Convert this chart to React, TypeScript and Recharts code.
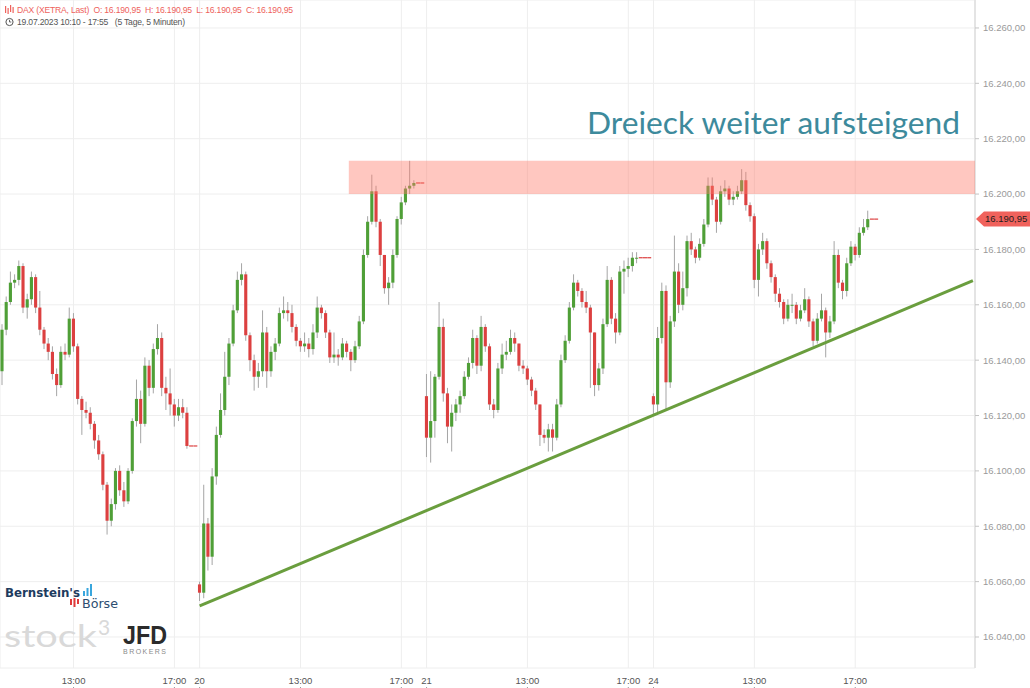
import { ComposedChart, Bar, XAxis, YAxis, CartesianGrid, ReferenceLine, ReferenceArea } from 'recharts'

// DAX (XETRA) 19.07. - 24.07.2023, read off the chart as 10-minute candles
// open of a candle = close of the one before, first open of each session below
const TOTAL_SLOTS = 232
const GREEN = '#4f9f37'
const RED = '#dc4040'

const dayOpens = [16136, 16059, 16127, 16127]

const close19 = [16151, 16161, 16168, 16169, 16174, 16159, 16162, 16170, 16159, 16151, 16146, 16143, 16135, 16131, 16143, 16142, 16155, 16145, 16126, 16122, 16121, 16117, 16111, 16106, 16095, 16082, 16088, 16100, 16093, 16089, 16100, 16118, 16126, 16117, 16138, 16130, 16144, 16148, 16130, 16128, 16124, 16120, 16123, 16121, 16109, 16109, 16109]
const high19 = [16153, 16163, 16172, 16171, 16176, 16175, 16164, 16172, 16171, 16165, 16152, 16148, 16145, 16137, 16145, 16146, 16159, 16157, 16146, 16127, 16125, 16123, 16118, 16113, 16107, 16096, 16090, 16101, 16102, 16096, 16101, 16119, 16133, 16129, 16141, 16140, 16146, 16153, 16150, 16134, 16137, 16126, 16126, 16126, 16123, 16109, 16109]
const low19 = [16131, 16149, 16160, 16166, 16167, 16157, 16155, 16160, 16157, 16149, 16144, 16140, 16133, 16127, 16130, 16140, 16141, 16143, 16124, 16113, 16119, 16115, 16108, 16104, 16093, 16077, 16080, 16086, 16091, 16087, 16088, 16099, 16116, 16110, 16116, 16127, 16128, 16142, 16127, 16122, 16120, 16116, 16118, 16119, 16108, 16109, 16109]

const close20 = [16056, 16081, 16069, 16098, 16113, 16122, 16134, 16146, 16158, 16169, 16171, 16149, 16140, 16134, 16136, 16150, 16136, 16143, 16146, 16157, 16158, 16157, 16152, 16147, 16145, 16146, 16144, 16150, 16159, 16157, 16150, 16141, 16142, 16141, 16146, 16143, 16140, 16145, 16154, 16178, 16190, 16201, 16190, 16178, 16166, 16168, 16178, 16191, 16197, 16202, 16203, 16204, 16204, 16204]
const high20 = [16060, 16095, 16083, 16101, 16116, 16128, 16143, 16148, 16160, 16172, 16175, 16172, 16150, 16142, 16139, 16158, 16152, 16145, 16148, 16159, 16163, 16161, 16160, 16153, 16148, 16150, 16148, 16153, 16163, 16160, 16158, 16151, 16150, 16144, 16148, 16147, 16144, 16147, 16156, 16180, 16192, 16207, 16203, 16191, 16178, 16170, 16180, 16192, 16199, 16203, 16212, 16205, 16204, 16204]
const low20 = [16053, 16054, 16064, 16066, 16095, 16112, 16120, 16131, 16145, 16157, 16167, 16147, 16136, 16129, 16130, 16134, 16130, 16134, 16140, 16145, 16155, 16154, 16150, 16145, 16143, 16143, 16141, 16142, 16148, 16155, 16148, 16139, 16139, 16138, 16140, 16141, 16136, 16139, 16144, 16153, 16177, 16189, 16188, 16174, 16164, 16160, 16166, 16177, 16189, 16196, 16200, 16202, 16204, 16204]

const close21 = [16112, 16118, 16134, 16152, 16128, 16116, 16121, 16124, 16127, 16134, 16139, 16148, 16138, 16152, 16145, 16124, 16122, 16137, 16142, 16143, 16148, 16146, 16138, 16137, 16133, 16129, 16124, 16113, 16112, 16115, 16112, 16124, 16140, 16147, 16159, 16168, 16165, 16161, 16159, 16150, 16131, 16137, 16153, 16169, 16155, 16150, 16172, 16173, 16174, 16177, 16177, 16177, 16177, 16177]
const high21 = [16135, 16136, 16135, 16161, 16155, 16130, 16124, 16126, 16129, 16136, 16141, 16151, 16149, 16156, 16153, 16146, 16126, 16139, 16146, 16147, 16151, 16150, 16146, 16140, 16138, 16134, 16130, 16124, 16115, 16117, 16117, 16126, 16142, 16149, 16161, 16171, 16169, 16166, 16165, 16160, 16150, 16139, 16155, 16174, 16170, 16157, 16174, 16176, 16177, 16179, 16179, 16177, 16177, 16177]
const low21 = [16105, 16103, 16112, 16133, 16125, 16110, 16107, 16118, 16121, 16126, 16133, 16137, 16135, 16136, 16143, 16122, 16119, 16121, 16135, 16140, 16142, 16143, 16136, 16135, 16131, 16127, 16122, 16109, 16110, 16107, 16107, 16111, 16123, 16139, 16146, 16158, 16163, 16159, 16157, 16130, 16127, 16129, 16135, 16152, 16153, 16146, 16149, 16164, 16170, 16172, 16175, 16177, 16177, 16177]

const close24 = [16124, 16148, 16165, 16132, 16154, 16172, 16160, 16166, 16183, 16180, 16177, 16182, 16189, 16203, 16198, 16190, 16201, 16202, 16198, 16199, 16201, 16205, 16196, 16192, 16169, 16180, 16183, 16175, 16170, 16164, 16161, 16155, 16160, 16160, 16155, 16158, 16162, 16154, 16147, 16155, 16158, 16150, 16154, 16178, 16168, 16165, 16175, 16181, 16178, 16186, 16188, 16190.95, 16190.95, 16190.95]
const high24 = [16128, 16152, 16168, 16167, 16156, 16185, 16175, 16172, 16185, 16186, 16181, 16184, 16191, 16206, 16206, 16199, 16203, 16205, 16203, 16201, 16203, 16209, 16208, 16197, 16193, 16182, 16186, 16184, 16176, 16171, 16166, 16162, 16162, 16164, 16161, 16160, 16166, 16163, 16155, 16157, 16164, 16159, 16156, 16183, 16180, 16169, 16177, 16183, 16182, 16188, 16191, 16194, 16190.95, 16190.95]
const low24 = [16120, 16121, 16146, 16122, 16130, 16152, 16157, 16158, 16163, 16178, 16175, 16176, 16181, 16188, 16196, 16186, 16189, 16199, 16196, 16196, 16198, 16200, 16194, 16190, 16166, 16163, 16178, 16173, 16168, 16161, 16159, 16153, 16154, 16157, 16153, 16154, 16157, 16152, 16145, 16146, 16154, 16141, 16148, 16153, 16166, 16162, 16163, 16174, 16176, 16177, 16185, 16187, 16190.95, 16190.95]

// x axis: slot index -> label
const tickSlots = [17, 41, 47, 71, 95, 101, 125, 149, 155, 179, 203]
const tickLabels = ['13:00', '17:00', '20', '13:00', '17:00', '21', '13:00', '17:00', '24', '13:00', '17:00']
const priceTicks = [16040, 16060, 16080, 16100, 16120, 16140, 16160, 16180, 16200, 16220, 16240, 16260]

const lastPrice = 16190.95
const resistance = [16200, 16212]
const trendStart = { slot: 47, price: 16051.2 }
const trendEnd = { slot: 231, price: 16168.7 }

const sessions = [
  { open: dayOpens[0], close: close19, high: high19, low: low19 },
  { open: dayOpens[1], close: close20, high: high20, low: low20 },
  { open: dayOpens[2], close: close21, high: high21, low: low21 },
  { open: dayOpens[3], close: close24, high: high24, low: low24 },
]

const candles = sessions.flatMap((s) =>
  s.close.map((c, k) => {
    const o = k === 0 ? s.open : s.close[k - 1]
    return { open: o, close: c, range: [Math.min(s.low[k], o, c), Math.max(s.high[k], o, c)] }
  })
)

const data = Array.from({ length: TOTAL_SLOTS }, (_, i) => ({ slot: i, ...(candles[i] ?? { range: null }) }))

const fmt = (v: number) => {
  const [i, d] = v.toFixed(2).split('.')
  return i.replace(/\B(?=(\d{3})+(?!\d))/g, '.') + ',' + d
}

function Candle(props: any) {
  const { x, y, width, height, payload } = props
  if (!payload || !payload.range) return null
  const [lo, hi] = payload.range
  const top = Math.min(y, y + height)
  const h = Math.abs(height)
  const cx = x + width / 2
  if (hi === lo) {
    // flat after the close
    return <rect x={x} y={top - 0.6} width={width} height={1.2} fill={RED} />
  }
  const py = (v: number) => top + ((hi - v) / (hi - lo)) * h
  const yo = py(payload.open)
  const yc = py(payload.close)
  const up = payload.close >= payload.open
  const bw = width * 0.78
  return (
    <g>
      <line x1={cx} x2={cx} y1={top} y2={top + h} stroke="#a5a5a5" strokeWidth={1} />
      <rect
        x={cx - bw / 2}
        y={Math.min(yo, yc)}
        width={bw}
        height={Math.max(1, Math.abs(yc - yo))}
        fill={up ? GREEN : RED}
      />
    </g>
  )
}

function XTick(props: any) {
  const { x, y, payload } = props
  const label = tickLabels[tickSlots.indexOf(payload.value)]
  return (
    <g>
      <text x={x} y={y} dy={8} textAnchor="middle" fill="#555" fontSize={9.5} fontFamily="'Liberation Sans', Arial, sans-serif">
        {label}
      </text>
      <line x1={x} x2={x} y1={y + 11} y2={y + 16} stroke="#999" />
    </g>
  )
}

function PriceTag(props: any) {
  const vb = props.viewBox
  if (!vb) return null
  const left = vb.x + vb.width + 1
  const cy = vb.y
  return (
    <g>
      <polygon
        points={`${left},${cy} ${left + 8},${cy - 7.5} ${left + 56},${cy - 7.5} ${left + 56},${cy + 7.5} ${left + 8},${cy + 7.5}`}
        fill="#f0625c"
      />
      <text x={left + 9} y={cy} dy="0.35em" fill="#1d1d1d" fontSize={9.5} fontFamily="'Liberation Sans', Arial, sans-serif">
        {fmt(lastPrice)}
      </text>
    </g>
  )
}

function Overlay() {
  const sans = "'Liberation Sans', Arial, sans-serif"
  return (
    <svg width={1030} height={688} style={{ position: 'absolute', left: 0, top: 0, pointerEvents: 'none' }}>
      {/* header */}
      <g fill="#ee625c">
        <rect x={5} y={6} width={1.2} height={7} />
        <rect x={7.5} y={8} width={1.2} height={6} />
        <rect x={10} y={5} width={1.2} height={7} />
        <rect x={12.5} y={7} width={1.2} height={6} />
      </g>
      <text x={17} y={13} fontSize={8.6} fill="#ee625c" fontFamily={sans} textLength={276} lengthAdjust="spacing" style={{ whiteSpace: 'pre' }}>
        {`DAX (XETRA, Last)  O: ${fmt(lastPrice)}  H: ${fmt(lastPrice)}  L: ${fmt(lastPrice)}  C: ${fmt(lastPrice)}`}
      </text>
      <circle cx={9.5} cy={22} r={3.6} fill="none" stroke="#555" strokeWidth={1} />
      <path d="M9.5 19.8 V22 H11.3" fill="none" stroke="#555" strokeWidth={0.9} />
      <text x={17} y={25} fontSize={8.6} fill="#555" fontFamily={sans} textLength={168} lengthAdjust="spacing" style={{ whiteSpace: 'pre' }}>
        {'19.07.2023 10:10 - 17:55   (5 Tage, 5 Minuten)'}
      </text>

      {/* title */}
      <text x={587} y={134} fontFamily="Lato, sans-serif" fontSize={31} fill="#3d8a9c" textLength={373} lengthAdjust="spacingAndGlyphs">
        Dreieck weiter aufsteigend
      </text>

      {/* logos */}
      <text x={5} y={597} fontFamily="'DejaVu Sans', sans-serif" fontWeight={700} fontSize={12} fill="#1d3b5e" textLength={75} lengthAdjust="spacingAndGlyphs">
        Bernstein's
      </text>
      <g fill="#39a6dd">
        <rect x={83} y={591} width={2} height={5} />
        <rect x={86.5} y={588} width={2} height={8} />
        <rect x={90} y={584} width={2} height={12} />
      </g>
      <g fill="#e03a3a">
        <rect x={70} y={599} width={2} height={6} />
        <rect x={73.5} y={598} width={2} height={9} />
        <rect x={77} y={599} width={2} height={5} />
      </g>
      <text x={82} y={608} fontFamily="'DejaVu Sans', sans-serif" fontSize={12} fill="#2c4d70" textLength={36} lengthAdjust="spacingAndGlyphs">
        Börse
      </text>
      <text x={4} y={647} fontFamily="Lato, sans-serif" fontSize={30} fill="#d9d9d9" textLength={93} lengthAdjust="spacingAndGlyphs">
        stock
      </text>
      <text x={98} y={635} fontFamily="Lato, sans-serif" fontSize={21} fill="#d9d9d9">
        3
      </text>
      <text x={123} y={644} fontFamily={sans} fontWeight={700} fontSize={25} fill="#2b2b2b" textLength={44} lengthAdjust="spacingAndGlyphs">
        JFD
      </text>
      <text x={123} y={654} fontFamily={sans} fontSize={7} fill="#8a8a8a" textLength={43} lengthAdjust="spacing">
        BROKERS
      </text>
    </svg>
  )
}

export default function App() {
  return (
    <div style={{ position: 'absolute', left: 0, top: 0, width: 1030, height: 688, background: '#fff' }}>
      <ComposedChart
        width={1030}
        height={688}
        data={data}
        margin={{ top: 0, right: 0, left: 0, bottom: 0 }}
        barCategoryGap={0}
        barGap={0}
      >
        <CartesianGrid stroke="#eeeeee" />
        <XAxis
          dataKey="slot"
          type="category"
          height={20}
          ticks={tickSlots}
          interval={0}
          tick={<XTick />}
          axisLine={false}
          tickLine={false}
        />
        <YAxis
          orientation="right"
          width={55}
          domain={[16028.8, 16270.1]}
          ticks={priceTicks}
          allowDataOverflow
          tickFormatter={fmt}
          tick={{ fill: '#9a9a9a', fontSize: 9.5, fontFamily: "'Liberation Sans', Arial, sans-serif" }}
          axisLine={{ stroke: '#e4e4e4', strokeWidth: 2 }}
          tickLine={{ stroke: '#c4c4c4' }}
          tickSize={4}
          tickMargin={4}
        />
        <Bar dataKey="range" shape={(p: any) => <Candle {...p} />} isAnimationActive={false} />
        <ReferenceArea
          x1={83}
          x2={231}
          y1={resistance[0]}
          y2={resistance[1]}
          fill="#ff7a6a"
          fillOpacity={0.42}
          stroke="none"
          zIndex={600}
        />
        <ReferenceLine
          segment={[
            { x: trendStart.slot, y: trendStart.price },
            { x: trendEnd.slot, y: trendEnd.price },
          ]}
          stroke="#6a9e3e"
          strokeWidth={3}
          zIndex={700}
        />
        <ReferenceLine y={lastPrice} stroke="none" label={(p: any) => <PriceTag {...p} />} zIndex={800} />
      </ComposedChart>
      <Overlay />
    </div>
  )
}
